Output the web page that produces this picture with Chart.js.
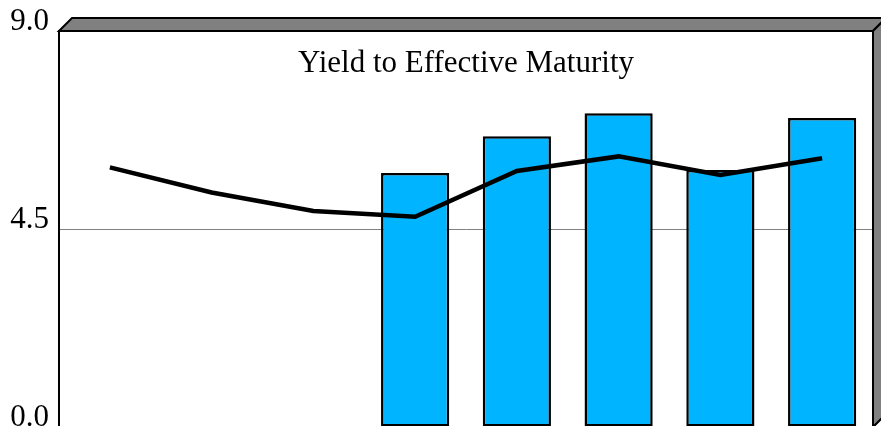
<!DOCTYPE html>
<html>
<head>
<meta charset="utf-8">
<style>
  html, body { margin: 0; padding: 0; background: #fff; overflow: hidden; }
  #wrap { width: 881px; height: 440px; }
</style>
<script src="https://cdn.jsdelivr.net/npm/chart.js@4/dist/chart.umd.min.js"></script>
</head>
<body>
<div id="wrap"><canvas id="yield-chart" width="881" height="440"></canvas></div>
<script>
const categories = ['1', '2', '3', '4', '5', '6', '7', '8'];
const barValues = [null, null, null, 5.77, 6.61, 7.13, 5.84, 7.02];
const lineValues = [5.90, 5.33, 4.91, 4.78, 5.82, 6.15, 5.73, 6.11];
const tickValues = [0, 4.5, 9];
const chartTitle = 'Yield to Effective Maturity';

const serif = '"Liberation Serif", "Times New Roman", serif';
const depthX = 13;
const depthY = 13;

// 3D frame around the plot area plus the title inside it
const framePlugin = {
    id: 'frame',
    beforeDatasetsDraw(chart) {
        const {ctx, chartArea} = chart;
        const {left, top, right, bottom} = chartArea;
        ctx.save();
        ctx.fillStyle = '#808080';
        ctx.strokeStyle = '#000';
        ctx.lineWidth = 2;
        ctx.lineJoin = 'miter';
        // top band
        ctx.beginPath();
        ctx.moveTo(left, top);
        ctx.lineTo(left + depthX, top - depthY);
        ctx.lineTo(right + depthX, top - depthY);
        ctx.lineTo(right, top);
        ctx.closePath();
        ctx.fill();
        ctx.stroke();
        // right band
        ctx.beginPath();
        ctx.moveTo(right, top);
        ctx.lineTo(right + depthX, top - depthY);
        ctx.lineTo(right + depthX, bottom - depthY);
        ctx.lineTo(right, bottom);
        ctx.closePath();
        ctx.fill();
        ctx.stroke();
        // plot border
        ctx.strokeRect(left, top, right - left, bottom - top);

        ctx.fillStyle = '#000';
        ctx.font = '31px ' + serif;
        ctx.textAlign = 'center';
        ctx.textBaseline = 'alphabetic';
        ctx.fillText(chartTitle, (left + right) / 2, 72);
        ctx.restore();
    }
};

new Chart(document.getElementById('yield-chart'), {
    data: {
        labels: categories,
        datasets: [{
            type: 'line',
            data: lineValues,
            borderColor: '#000',
            borderWidth: 4.5,
            pointRadius: 0,
            tension: 0,
            order: 0
        }, {
            type: 'bar',
            data: barValues,
            backgroundColor: '#00b4ff',
            borderColor: '#000',
            borderWidth: 2.5,
            borderSkipped: false,
            categoryPercentage: 1,
            barPercentage: 0.67,
            order: 1
        }]
    },
    options: {
        responsive: false,
        animation: false,
        layout: { padding: { top: 31, right: 8, bottom: 13, left: 0 } },
        plugins: {
            legend: { display: false },
            tooltip: { enabled: false },
            title: { display: false }
        },
        scales: {
            x: { display: false },
            y: {
                min: 0,
                max: 9,
                afterFit(scale) {
                    scale.width = 59;
                    scale.paddingTop = 0;
                    scale.paddingBottom = 0;
                },
                afterBuildTicks(scale) {
                    scale.ticks = tickValues.map(v => ({ value: v }));
                },
                border: { display: true, color: '#000', width: 2 },
                grid: {
                    drawTicks: false,
                    lineWidth: 1,
                    color: c => (c.tick && c.tick.value === 4.5) ? '#808080' : 'rgba(0,0,0,0)'
                },
                ticks: {
                    color: '#000',
                    padding: 10,
                    labelOffset: -9,
                    font: { family: serif, size: 31 },
                    callback: v => Number(v).toFixed(1)
                }
            }
        }
    },
    plugins: [framePlugin]
});
</script>
</body>
</html>
